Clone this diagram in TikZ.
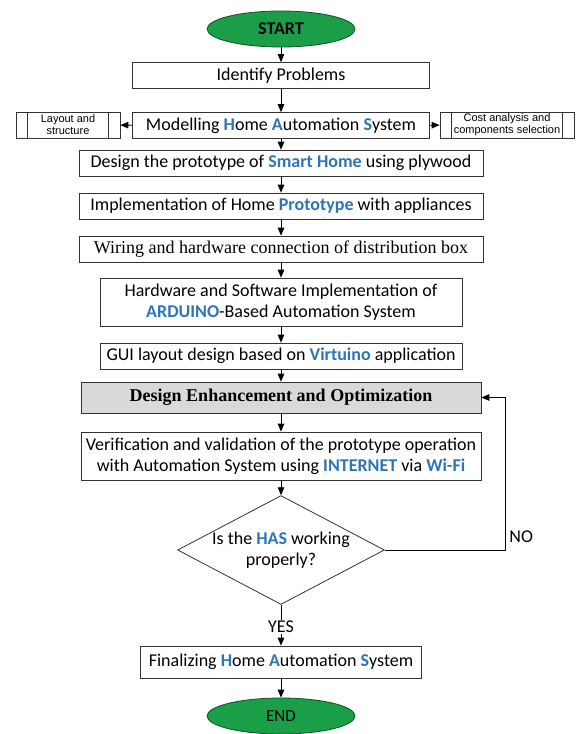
\documentclass[tikz,border=0pt]{standalone}
\usepackage{fontspec}
\setmainfont{Carlito}
\newfontfamily\timesfont{Liberation Serif}
\newfontfamily\arialfont{Liberation Sans}
\usetikzlibrary{arrows}
\usetikzlibrary{shapes.geometric}
\definecolor{hasblue}{RGB}{46,117,182}
\definecolor{termgreen}{RGB}{26,158,72}
\definecolor{termedge}{RGB}{20,80,40}
\newcommand{\hb}[1]{\textcolor{hasblue}{\textbf{#1}}}

\begin{document}
\begin{tikzpicture}[x=1pt,y=-1pt,>=triangle 45,line width=0.8pt]
	\tikzstyle{term}=[ellipse,draw=termedge,fill=termgreen,minimum width=148pt,minimum height=36pt,font=\fontsize{17}{19}\selectfont]
	\tikzstyle{proc}=[rectangle,draw=black!80,fill=white,minimum height=26pt,inner sep=2pt,align=center,font=\fontsize{18}{21}\selectfont]
	\tikzstyle{side}=[rectangle,draw=black!80,minimum height=26pt,inner sep=1pt,align=center,font=\arialfont\fontsize{11}{12}\selectfont]
	\tikzstyle{ask}=[diamond,aspect=1.9,draw=black!80,minimum width=200pt,minimum height=106pt,inner sep=0pt,align=center,font=\fontsize{18}{21}\selectfont]
	\tikzstyle{tag}=[font=\fontsize{18}{21}\selectfont,inner sep=1pt]
	\useasboundingbox (0,0) rectangle (579,734);
	\node[term,font=\fontsize{18}{20}\selectfont\bfseries] (start) at (281,29){START};
	\node[proc,minimum width=297pt] (ident) at (281,75.5){Identify Problems};
	\node[proc,minimum width=297pt] (model) at (281,125.5){Modelling \hb{H}ome \hb{A}utomation \hb{S}ystem};
	\node[side,minimum width=104pt] (lay) at (68,125){Layout and\\structure};
	\node[side,minimum width=134pt] (cost) at (507,125){Cost analysis and\\components selection};
	\node[proc,minimum width=404pt] (proto) at (281,163){Design the prototype of \hb{Smart Home} using plywood};
	\node[proc,minimum width=404pt] (impl) at (281,206){Implementation of Home \hb{Prototype} with appliances};
	\node[proc,minimum width=404pt,font=\timesfont\fontsize{18}{21}\selectfont] (wire) at (281,249){Wiring and hardware connection of distribution box};
	\node[proc,minimum width=362pt,minimum height=48pt] (ard) at (281,302){Hardware and Software Implementation of\\\hb{ARDUINO}-Based Automation System};
	\node[proc,minimum width=362pt] (gui) at (281,356){GUI layout design based on \hb{Virtuino} application};
	\node[proc,minimum width=400pt,minimum height=31pt,fill=black!15,font=\timesfont\bfseries\fontsize{18}{21}\selectfont] (enh) at (281,397.5){Design Enhancement and Optimization};
	\node[proc,minimum width=400pt,minimum height=48pt] (verif) at (281,456){Verification and validation of the prototype operation\\with Automation System using \hb{INTERNET} via \hb{Wi-Fi}};
	\node[ask] (has) at (281,550){Is the \hb{HAS} working\\properly?};
	\node[tag] (yes) at (281,627){YES};
	\node[proc,minimum width=281pt,minimum height=32pt] (fin) at (281,662){Finalizing \hb{H}ome \hb{A}utomation \hb{S}ystem};
	\node[term] (end) at (281,716){END};
	\coordinate (back) at (505,550);
	\node[tag,anchor=west] (no) at (508,537){NO};
	% inner bars of the side boxes
	\foreach \n in {lay,cost}{
		\draw[black!80] ([xshift=12pt]\n.north west) -- ([xshift=12pt]\n.south west);
		\draw[black!80] ([xshift=-12pt]\n.north east) -- ([xshift=-12pt]\n.south east);
	}
	% main flow
	\draw[->] (start) -- (ident);
	\draw[->] (ident) -- (model);
	\draw[->] (model) -- (lay);
	\draw[->] (model) -- (cost);
	\draw[->] (model) -- (proto);
	\draw[->] (proto) -- (impl);
	\draw[->] (impl) -- (wire);
	\draw[->] (wire) -- (ard);
	\draw[->] (ard) -- (gui);
	\draw[->] (gui) -- (enh);
	\draw[->] (enh) -- (verif);
	\draw[->] (verif) -- (has);
	\draw (has) -- (yes);
	\draw[->] (yes) -- (fin);
	\draw[->] (fin) -- (end);
	\draw[->] (has.east) -- (back) |- (enh.east);
\end{tikzpicture}
\end{document}
